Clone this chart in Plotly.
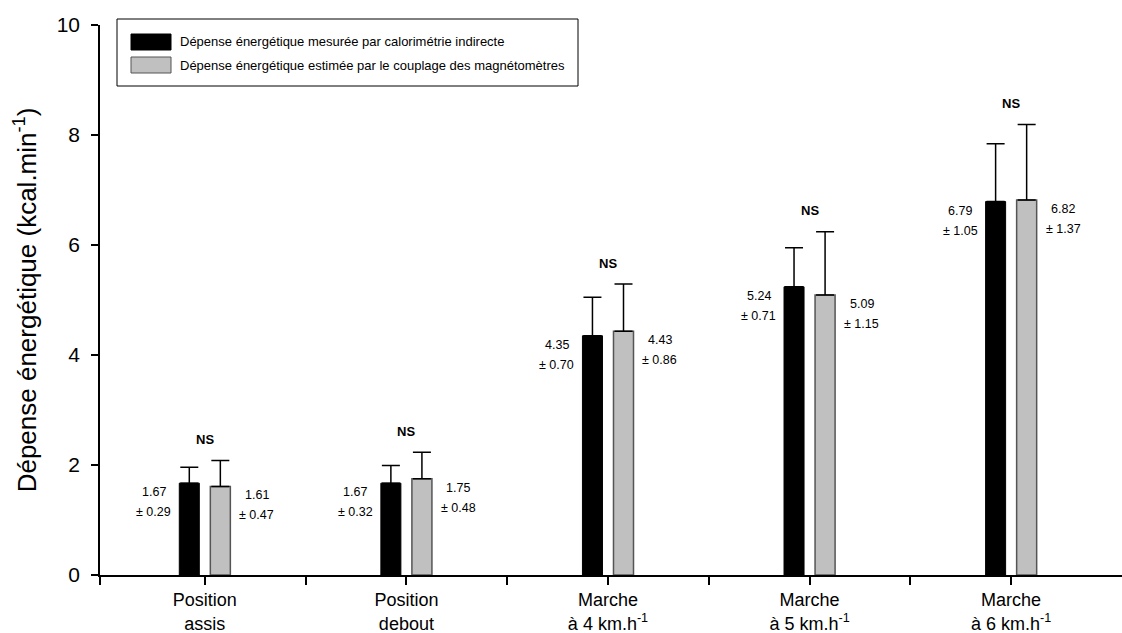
import plotly.graph_objects as go

# ---- data ----
categories = ["Position<br>assis", "Position<br>debout", "Marche<br>à 4 km.h<sup>-1</sup>",
              "Marche<br>à 5 km.h<sup>-1</sup>", "Marche<br>à 6 km.h<sup>-1</sup>"]
measured_mean = [1.67, 1.67, 4.35, 5.24, 6.79]
measured_sd = [0.29, 0.32, 0.70, 0.71, 1.05]
estimated_mean = [1.61, 1.75, 4.43, 5.09, 6.82]
estimated_sd = [0.47, 0.48, 0.86, 1.15, 1.37]
significance = ["NS", "NS", "NS", "NS", "NS"]
series_names = ["Dépense énergétique mesurée par calorimétrie indirecte",
                "Dépense énergétique estimée par le couplage des magnétomètres"]
y_title = "Dépense énergétique (kcal.min<sup>-1</sup>)"
y_ticks = [0, 2, 4, 6, 8, 10]

FONT = "Arial, Liberation Sans, sans-serif"
W, H = 1122, 633
L, R, T, B = 100, 0, 25, 58
PW, PH = W - L - R, H - T - B
X_LO, X_HI = -0.52, 4.55

xpos = list(range(len(categories)))

fig = go.Figure()
fig.add_trace(go.Bar(
    x=xpos, y=measured_mean, name=series_names[0],
    marker=dict(color="black", line=dict(color="black", width=1)),
    error_y=dict(type="data", array=measured_sd, arrayminus=[0] * len(measured_sd),
                 symmetric=False, color="black", thickness=1.5, width=9),
    showlegend=False,
))
fig.add_trace(go.Bar(
    x=xpos, y=estimated_mean, name=series_names[1],
    marker=dict(color="#c0c0c0", line=dict(color="#555555", width=1.5)),
    error_y=dict(type="data", array=estimated_sd, arrayminus=[0] * len(estimated_sd),
                 symmetric=False, color="black", thickness=1.5, width=9),
    showlegend=False,
))

annots = []
for i in xpos:
    for mean, sd, xs in ((measured_mean[i], measured_sd[i], -51),
                         (estimated_mean[i], estimated_sd[i], 52)):
        annots.append(dict(x=i, y=mean, xref="x", yref="y", text=f"{mean:.2f}",
                           showarrow=False, xshift=xs, yshift=-9, yanchor="middle",
                           font=dict(family=FONT, size=12.5, color="black")))
        annots.append(dict(x=i, y=mean, xref="x", yref="y", text=f"± {sd:.2f}",
                           showarrow=False, xshift=xs, yshift=-29, yanchor="middle",
                           font=dict(family=FONT, size=12.5, color="black")))
    top = max(measured_mean[i] + measured_sd[i], estimated_mean[i] + estimated_sd[i])
    annots.append(dict(x=i, y=top, xref="x", yref="y", text=f"<b>{significance[i]}</b>",
                       showarrow=False, yshift=21, yanchor="middle",
                       font=dict(family=FONT, size=13, color="black")))


def px2x(px):
    return (px - L) / PW


def py2y(py):
    return (H - B - py) / PH


shapes = [
    dict(type="rect", xref="paper", yref="paper", x0=px2x(117), x1=px2x(578),
         y0=py2y(86), y1=py2y(19), line=dict(color="black", width=1), fillcolor="white",
         layer="above"),
    dict(type="rect", xref="paper", yref="paper", x0=px2x(131), x1=px2x(171),
         y0=py2y(50), y1=py2y(34), line=dict(color="black", width=1), fillcolor="black"),
    dict(type="rect", xref="paper", yref="paper", x0=px2x(131), x1=px2x(171),
         y0=py2y(73), y1=py2y(57), line=dict(color="#555555", width=1), fillcolor="#c0c0c0"),
]
for name, py in zip(series_names, (42, 65)):
    annots.append(dict(x=px2x(178), y=py2y(py), xref="paper", yref="paper", text=name,
                       showarrow=False, xanchor="left", yanchor="middle",
                       font=dict(family=FONT, size=13, color="black")))

minor_ticks = [X_LO] + [i - 0.5 for i in xpos if i > 0]

fig.update_layout(
    width=W, height=H,
    margin=dict(l=L, r=R, t=T, b=B, autoexpand=False),
    paper_bgcolor="white", plot_bgcolor="white",
    barmode="group", bargap=0.692, bargroupgap=0.355,
    font=dict(family=FONT, color="black"),
    annotations=annots, shapes=shapes,
    xaxis=dict(range=[X_LO, X_HI], tickmode="array", tickvals=xpos, ticktext=categories,
               showline=True, linecolor="black", linewidth=1.5, ticks="outside",
               ticklen=8, tickwidth=1.5, tickcolor="black", showgrid=False, zeroline=False,
               minor=dict(tickmode="array", tickvals=minor_ticks, ticks="outside",
                          ticklen=8, tickwidth=1.5, tickcolor="black", showgrid=False),
               tickfont=dict(family=FONT, size=18, color="black")),
    yaxis=dict(range=[0, 10], tickmode="array", tickvals=y_ticks,
               showline=True, linecolor="black", linewidth=1.5, ticks="outside",
               ticklen=7, tickwidth=1.5, tickcolor="black", showgrid=False, zeroline=False,
               ticklabelstandoff=7,
               tickfont=dict(family=FONT, size=21, color="black"),
               title=dict(text=y_title, font=dict(family=FONT, size=26, color="black"),
                          standoff=13)),
)

fig.write_html("out.html", config={"displayModeBar": False},
               post_script="document.body.style.margin='0px';")
